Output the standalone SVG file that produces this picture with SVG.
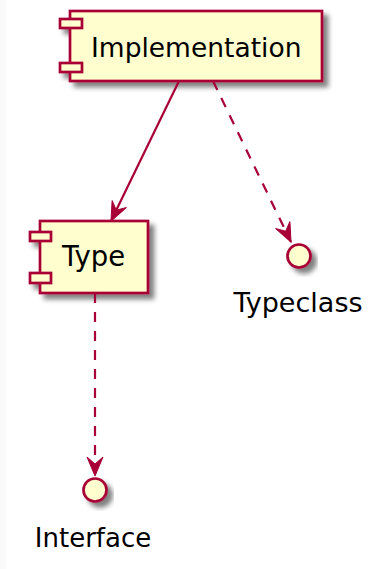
<svg xmlns="http://www.w3.org/2000/svg" width="382" height="569" viewBox="0 0 382 569">
<style>
.node{fill:#FEFECE;stroke:#A80036;stroke-width:2.7}
.lbl{font-family:"DejaVu Sans",sans-serif;fill:#000}
.edge{fill:none;stroke:#A80036;stroke-width:2.2}
.dash{stroke-dasharray:10,9}
</style>
<defs>
<filter id="sh" x="-20%" y="-20%" width="150%" height="160%">
<feGaussianBlur in="SourceAlpha" stdDeviation="2.5"/>
<feOffset dx="5" dy="5" result="b"/>
<feComponentTransfer in="b" result="c"><feFuncA type="linear" slope="0.5"/></feComponentTransfer>
<feMerge><feMergeNode in="c"/><feMergeNode in="SourceGraphic"/></feMerge>
</filter>
<marker id="arr" markerUnits="userSpaceOnUse" viewBox="-20 -10 22 20" refX="0" refY="0" markerWidth="22" markerHeight="20" orient="auto">
<path d="M0,0 L-19,-8 L-12,0 L-19,8 Z" fill="#A80036" stroke="#A80036" stroke-width="1"/>
</marker>
</defs>
<rect x="0" y="0" width="6" height="569" fill="#fafafa"/>
<g id="Implementation">
<g filter="url(#sh)">
<rect class="node" x="70" y="11" width="252" height="70"/>
<rect class="node" x="60" y="19" width="22" height="9"/>
<rect class="node" x="60" y="63" width="22" height="9"/>
</g>
<text class="lbl" x="91" y="57" font-size="26.5">Implementation</text>
</g>
<g id="Type">
<g filter="url(#sh)">
<rect class="node" x="40" y="221" width="108" height="72"/>
<rect class="node" x="30" y="232" width="21" height="9"/>
<rect class="node" x="30" y="273" width="21" height="10"/>
</g>
<text class="lbl" x="62" y="266" font-size="27.5">Type</text>
</g>
<g id="Typeclass">
<circle class="node" cx="299" cy="256" r="11.5" stroke-width="3.5" filter="url(#sh)"/>
<text class="lbl" x="298" y="312" font-size="27" text-anchor="middle">Typeclass</text>
</g>
<g id="Interface">
<circle class="node" cx="95" cy="490" r="11.5" stroke-width="3.5" filter="url(#sh)"/>
<text class="lbl" x="93" y="547" font-size="26" text-anchor="middle">Interface</text>
</g>
<g id="connectors">
<path class="edge" d="M179,81 L111,221" marker-end="url(#arr)"/>
<path class="edge dash" d="M213,81 L291,242" marker-end="url(#arr)"/>
<path class="edge dash" d="M95,293 L95,476" marker-end="url(#arr)"/>
</g>
</svg>
